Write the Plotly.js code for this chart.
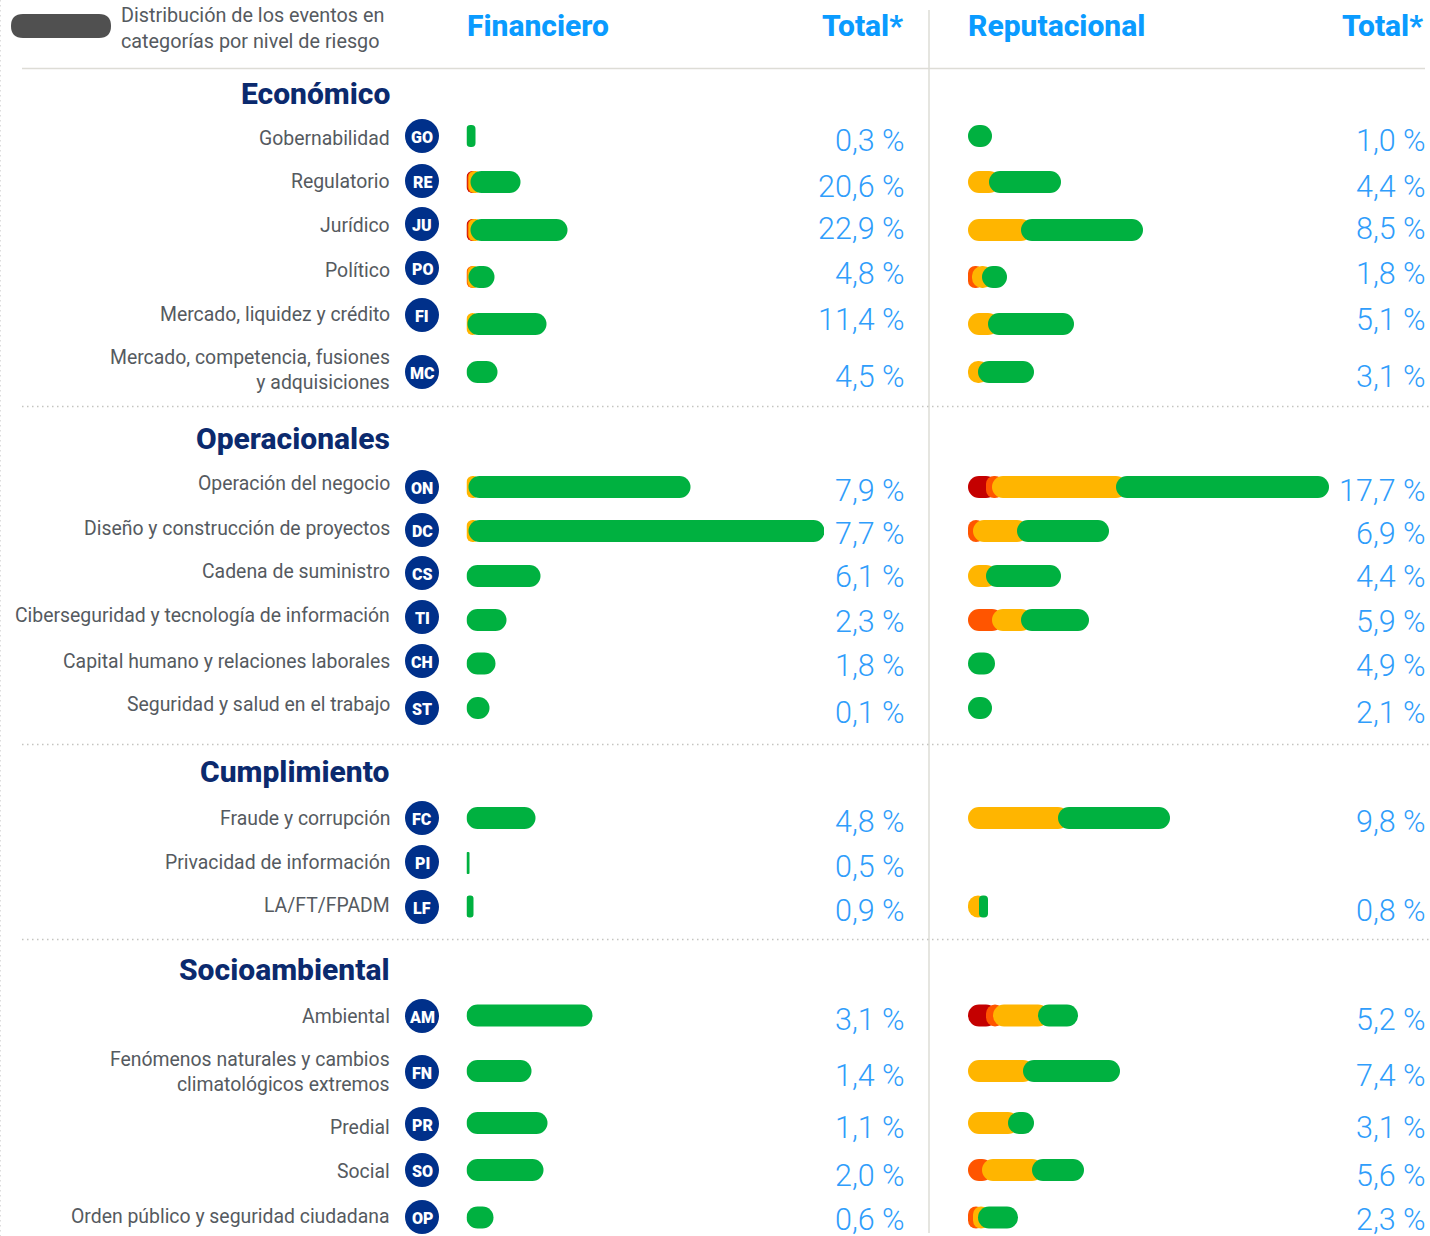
<!DOCTYPE html>
<html lang="es">
<head>
<meta charset="utf-8">
<script src="https://cdn.plot.ly/plotly-3.0.1.min.js"></script>
<style>html,body{margin:0;padding:0;background:#fff}#chart{width:1430px;height:1236px}</style>
</head>
<body>
<div id="chart"></div>
<script>
// ---------- data ----------
const categories = ["Gobernabilidad","Regulatorio","Jurídico","Político","Mercado, liquidez y crédito","Mercado, competencia, fusiones<br>y adquisiciones",
  "Operación del negocio","Diseño y construcción de proyectos","Cadena de suministro","Ciberseguridad y tecnología de información","Capital humano y relaciones laborales","Seguridad y salud en el trabajo",
  "Fraude y corrupción","Privacidad de información","LA/FT/FPADM",
  "Ambiental","Fenómenos naturales y cambios<br>climatológicos extremos","Predial","Social","Orden público y seguridad ciudadana"];
const codes = ["GO","RE","JU","PO","FI","MC","ON","DC","CS","TI","CH","ST","FC","PI","LF","AM","FN","PR","SO","OP"];
const groups = ["Económico","Operacionales","Cumplimiento","Socioambiental"];
const finTotals = ["0,3 %","20,6 %","22,9 %","4,8 %","11,4 %","4,5 %","7,9 %","7,7 %","6,1 %","2,3 %","1,8 %","0,1 %","4,8 %","0,5 %","0,9 %","3,1 %","1,4 %","1,1 %","2,0 %","0,6 %"];
const repTotals = ["1,0 %","4,4 %","8,5 %","1,8 %","5,1 %","3,1 %","17,7 %","6,9 %","4,4 %","5,9 %","4,9 %","2,1 %","9,8 %","","0,8 %","5,2 %","7,4 %","3,1 %","5,6 %","2,3 %"];
const finRed    = [0,1,1,0,0,0, 0,0,0,0,0,0, 0,0,0, 0,0,0,0,0];
const finOrange = [0,1,1,1,0,0, 0,0,0,0,0,0, 0,0,0, 0,0,0,0,0];
const finAmber  = [0,2,2,1,1,0, 2,2,0,0,0,0, 0,0,0, 0,0,0,0,0];
const finGreen  = [9,50,97,26,79,31, 222,356,74,40,29,23, 69,3,7, 126,65,81,77,27];
const repRed    = [0,0,0,0,0,0, 18,0,0,0,0,0, 0,0,0, 18,0,0,0,0];
const repOrange = [0,0,0,4,0,0, 6,5,0,24,0,0, 0,0,0, 7,0,0,14,5];
const repAmber  = [0,21,53,10,20,10, 124,44,18,29,0,0, 90,0,11, 45,55,40,50,5];
const repGreen  = [24,72,122,25,86,56, 213,92,75,68,27,24, 112,0,9, 40,97,26,52,40];

// ---------- layout constants (pixels of the 1430x1236 page) ----------
const W = 1430, H = 1236;
const barY   = [136,182,230,277,324,372, 487,531,576,620,663.5,708, 818,863,906.5, 1015.5,1071,1123,1170,1217.5];
const badgeY = [136,181,224,268,315,372, 487,530,573,617,661,708, 818,862,907, 1016,1072,1124,1170,1217];
const labelY = [138,181,225,270,314,369.5, 483,528,571,615,661,704, 818,862,905, 1016,1071.5,1127,1171,1216];
const totalY = [140,186,228,273,319,376, 490,533,576,621,665,712, 821,866,910, 1019,1075,1127,1175,1219];
const groupY = [93,438,771,969];
const BAR_H = 22, R = 11;
const levelColors = ["#c40000","#ff5500","#ffb500","#00b140"];
const levelNames = ["Muy alto","Alto","Medio","Bajo"];
const NAVY = "#0b2a6e", BLUE = "#0a9bff", VALUE_BLUE = "#2f9dfb", GREY = "#555a60", RULE = "#dddcd6", DOTS = "#c4c4c0";
const FONT = "Roboto, sans-serif";

// ---------- bars: each level starts where the previous one ends and runs on under the next ----------
function panelTraces(levels, xaxis) {
  return levels.map((vals, lv) => {
    const base = [], len = [];
    vals.forEach((v, i) => {
      let start = 0;
      for (let k = 0; k < lv; k++) start += levels[k][i];
      let total = start;
      for (let k = lv; k < levels.length; k++) total += levels[k][i];
      const later = total - start - v;
      const end = later > 0 ? Math.min(start + v + R, total) : start + v;
      base.push(start);
      len.push(v > 0 ? end - start : 0);
    });
    return {
      type: "bar", orientation: "h", y: barY, x: len, base: base, xaxis: xaxis, yaxis: "y",
      width: BAR_H, name: levelNames[lv], hoverinfo: "skip", showlegend: false,
      marker: {color: levelColors[lv], cornerradius: R, line: {width: 0}}
    };
  });
}

const badges = {
  type: "scatter", mode: "markers", x: codes.map(() => 422), y: badgeY, xaxis: "x3", yaxis: "y",
  hoverinfo: "skip", showlegend: false, cliponaxis: false,
  marker: {size: 34, color: "#00308a", line: {width: 0}}
};

const traces = [
  ...panelTraces([finRed, finOrange, finAmber, finGreen], "x"),
  ...panelTraces([repRed, repOrange, repAmber, repGreen], "x2"),
  badges
];

// ---------- text ----------
const px = x => x / W;
const note = (text, x, y, anchor, size, color, weight) => ({
  text, x: px(x), y, xref: "paper", yref: "y", xanchor: anchor, yanchor: "middle", showarrow: false,
  align: anchor, font: {family: FONT, size, color, weight: weight || 400}, borderpad: 0
});
const annotations = [
  ...categories.map((c, i) => note(c, 391, labelY[i], "right", 19.4, GREY)),
  ...codes.map((c, i) => note(c, 422, badgeY[i] + 1, "center", 16, "#ffffff", 900)),
  ...finTotals.map((t, i) => note(t, 906, totalY[i], "right", 30.5, VALUE_BLUE, 300)),
  ...repTotals.map((t, i) => t ? note(t, 1427, totalY[i], "right", 30.5, VALUE_BLUE, 300) : null).filter(Boolean),
  ...groups.map((g, i) => note(g, 391, groupY[i], "right", 30, NAVY, 800)),
  note("Distribución de los eventos en<br>categorías por nivel de riesgo", 120, 28, "left", 19.8, GREY),
  note("Financiero", 466, 25, "left", 30, BLUE, 800),
  note("Total*", 904, 25, "right", 30, BLUE, 800),
  note("Reputacional", 967, 25, "left", 30, BLUE, 800),
  note("Total*", 1424, 25, "right", 30, BLUE, 800)
];

// ---------- rules ----------
const line = (x0, y0, x1, y1, color, width, dash) => ({
  type: "line", xref: "x3", yref: "y", x0, y0, x1, y1, layer: "below",
  line: {color, width, dash: dash || "solid"}
});
const DOT_DASH = "1.5px,3.5px";
const shapes = [
  line(22, 68.5, 1425, 68.5, RULE, 1.5),
  line(929, 10, 929, 1233, RULE, 1.5),
  line(22, 406.5, 1430, 406.5, DOTS, 1.5, DOT_DASH),
  line(22, 744.5, 1430, 744.5, DOTS, 1.5, DOT_DASH),
  line(22, 939.5, 1430, 939.5, DOTS, 1.5, DOT_DASH),
  line(0.5, 0, 0.5, 1236, "#dddddd", 1, DOT_DASH),
  {type: "path", xref: "x3", yref: "y", layer: "below", fillcolor: "#505050", line: {width: 0},
   path: "M 23 14 L 99 14 Q 111 14 111 26 Q 111 38 99 38 L 23 38 Q 11 38 11 26 Q 11 14 23 14 Z"}
];

const hidden = {visible: false, fixedrange: true};
const layout = {
  width: W, height: H, margin: {l: 0, r: 0, t: 0, b: 0},
  paper_bgcolor: "#ffffff", plot_bgcolor: "rgba(0,0,0,0)",
  barmode: "overlay", showlegend: false, hovermode: false, dragmode: false,
  xaxis:  {...hidden, domain: [466.5 / W, 824 / W], range: [0, 357.5]},
  xaxis2: {...hidden, domain: [968 / W, 1329 / W], range: [0, 361], anchor: "y"},
  xaxis3: {...hidden, domain: [0, 1], range: [0, W], anchor: "y"},
  yaxis:  {...hidden, domain: [0, 1], range: [H, 0]},
  annotations, shapes
};
Plotly.newPlot("chart", traces, layout, {displayModeBar: false, staticPlot: true});
</script>
</body>
</html>
